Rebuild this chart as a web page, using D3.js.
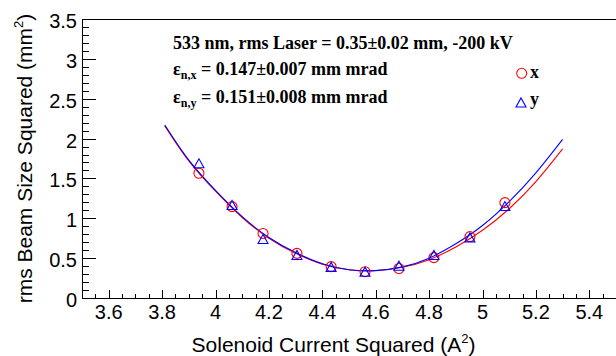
<!DOCTYPE html>
<html>
<head>
<meta charset="utf-8">
<script src="https://cdn.jsdelivr.net/npm/d3@7"></script>
<style>
  html, body { margin: 0; padding: 0; background: #fff; }
  svg { display: block; }
</style>
</head>
<body>
<svg id="chart" width="616" height="356"></svg>
<script>
// ---- data ----
const current2 = [3.938, 4.062, 4.178, 4.305, 4.433, 4.560, 4.687, 4.818, 4.953, 5.084];
const sizeX    = [1.565, 1.146, 0.81, 0.56, 0.393, 0.33, 0.37, 0.506, 0.77, 1.196];
const sizeY    = [1.69, 1.167, 0.74, 0.54, 0.39, 0.33, 0.405, 0.54, 0.76, 1.154];

const fitCurrent2 = [3.81, 3.9, 4.0, 4.1, 4.2, 4.3, 4.4, 4.5, 4.6, 4.7, 4.8, 4.9, 5.0, 5.1, 5.2, 5.3];
const fitX = [2.16, 1.72, 1.34, 1.01, 0.75, 0.56, 0.425, 0.355, 0.345, 0.385, 0.48, 0.64, 0.85, 1.12, 1.46, 1.87];
const fitY = [2.17, 1.73, 1.35, 1.02, 0.76, 0.57, 0.43, 0.355, 0.343, 0.39, 0.50, 0.68, 0.91, 1.21, 1.57, 1.99];

const xTickLabels = [3.6, 3.8, 4.0, 4.2, 4.4, 4.6, 4.8, 5.0, 5.2, 5.4];
const yTickLabels = [0, 0.5, 1, 1.5, 2, 2.5, 3, 3.5];

const infoLine1 = "533 nm, rms Laser = 0.35\u00B10.02 mm, -200 kV";
const infoLine2 = { sub: "n,x", rest: " = 0.147\u00B10.007 mm mrad" };
const infoLine3 = { sub: "n,y", rest: " = 0.151\u00B10.008 mm mrad" };
const legendLabels = ["x", "y"];

// ---- layout ----
const svg = d3.select("#chart");
const L = 82, T = 19, B = 298, R = 616;
const x = d3.scaleLinear().domain([3.5, 5.5]).range([L, R]);
const y = d3.scaleLinear().domain([0, 3.5]).range([B, T]);
const RED = "#ff0000", BLUE = "#0000ff";
const sans = "'Liberation Sans', Arial, Helvetica, sans-serif";
const serif = "'Liberation Serif', 'Times New Roman', Times, serif";

// frame
svg.append("path")
  .attr("d", `M${R + 5},${T}H${L}V${B}H${R + 5}`)
  .attr("fill", "none").attr("stroke", "#000").attr("stroke-width", 1)
  .attr("shape-rendering", "crispEdges");

// x ticks
const fmt = d => (Math.round(d * 10) / 10).toString();
const xMinor = d3.range(3.5, 5.5001, 0.05).filter(v => !xTickLabels.some(t => Math.abs(t - v) < 1e-6));
const gx = svg.append("g").attr("shape-rendering", "crispEdges");
gx.selectAll("line.minor").data(xMinor).join("line")
  .attr("x1", d => Math.round(x(d)) + 0.5).attr("x2", d => Math.round(x(d)) + 0.5)
  .attr("y1", B).attr("y2", B - 4).attr("stroke", "#000");
gx.selectAll("line.major").data(xTickLabels).join("line")
  .attr("x1", d => Math.round(x(d)) + 0.5).attr("x2", d => Math.round(x(d)) + 0.5)
  .attr("y1", B).attr("y2", B - 8).attr("stroke", "#000");
svg.append("g").selectAll("text").data(xTickLabels).join("text")
  .attr("x", d => x(d)).attr("y", 319)
  .attr("text-anchor", "middle")
  .attr("font-family", sans).attr("font-size", 20)
  .text(fmt);

// y ticks
const yMinor = d3.range(0, 3.5001, 0.1).filter(v => !yTickLabels.some(t => Math.abs(t - v) < 1e-6));
const gy = svg.append("g").attr("shape-rendering", "crispEdges");
gy.selectAll("line.minor").data(yMinor).join("line")
  .attr("x1", L).attr("x2", L + 7)
  .attr("y1", d => Math.round(y(d)) + 0.5).attr("y2", d => Math.round(y(d)) + 0.5)
  .attr("stroke", "#000");
gy.selectAll("line.major").data(yTickLabels).join("line")
  .attr("x1", L).attr("x2", L + 14)
  .attr("y1", d => Math.round(y(d)) + 0.5).attr("y2", d => Math.round(y(d)) + 0.5)
  .attr("stroke", "#000");
svg.append("g").selectAll("text").data(yTickLabels).join("text")
  .attr("x", 77).attr("y", d => y(d) + 9)
  .attr("text-anchor", "end")
  .attr("font-family", sans).attr("font-size", 20)
  .text(d => d.toString());

// axis titles
const xt = svg.append("text").attr("x", 333.5).attr("y", 352)
  .attr("text-anchor", "middle").attr("font-family", sans).attr("font-size", 21);
xt.append("tspan").text("Solenoid Current Squared (A");
xt.append("tspan").attr("font-size", 13).attr("dy", -9).text("2");
xt.append("tspan").attr("dy", 9).text(")");

const yt = svg.append("text")
  .attr("transform", `translate(32,${(T + B) / 2}) rotate(-90)`)
  .attr("text-anchor", "middle").attr("font-family", sans).attr("font-size", 21);
yt.append("tspan").text("rms Beam Size Squared (mm");
yt.append("tspan").attr("font-size", 13).attr("dy", -9).text("2");
yt.append("tspan").attr("dy", 9).text(")");

// fit curves
const line = d3.line().curve(d3.curveNatural).x(d => x(d[0])).y(d => y(d[1]));
svg.append("path").datum(fitCurrent2.map((c, i) => [c, fitX[i]]))
  .attr("d", line).attr("fill", "none").attr("stroke", RED).attr("stroke-width", 1.1);
svg.append("path").datum(fitCurrent2.map((c, i) => [c, fitY[i]]))
  .attr("d", line).attr("fill", "none").attr("stroke", BLUE).attr("stroke-width", 1.1);

// markers
const tri = (cx, cy) => `M${cx - 5},${cy + 4.5}L${cx + 5},${cy + 4.5}L${cx},${cy - 4.5}Z`;
svg.append("g").selectAll("circle").data(current2.map((c, i) => [c, sizeX[i]])).join("circle")
  .attr("cx", d => x(d[0])).attr("cy", d => y(d[1])).attr("r", 5)
  .attr("fill", "none").attr("stroke", RED).attr("stroke-width", 1.1);
svg.append("g").selectAll("path").data(current2.map((c, i) => [c, sizeY[i]])).join("path")
  .attr("d", d => tri(x(d[0]), y(d[1])))
  .attr("fill", "none").attr("stroke", BLUE).attr("stroke-width", 1.1);

// info text
svg.append("text").attr("x", 173).attr("y", 49)
  .attr("font-family", serif).attr("font-weight", "bold").attr("font-size", 18)
  .text(infoLine1);
[[infoLine2, 75], [infoLine3, 103]].forEach(([ln, by]) => {
  const t = svg.append("text").attr("x", 173).attr("y", by)
    .attr("font-family", serif).attr("font-weight", "bold").attr("font-size", 18);
  t.append("tspan").text("\u03B5");
  t.append("tspan").attr("font-size", 12).attr("dy", 4).text(ln.sub);
  t.append("tspan").attr("dy", -4).text(ln.rest);
});

// legend
svg.append("circle").attr("cx", 521.7).attr("cy", 73.3).attr("r", 5)
  .attr("fill", "none").attr("stroke", RED).attr("stroke-width", 1.1);
svg.append("path").attr("d", tri(521, 102.5))
  .attr("fill", "none").attr("stroke", BLUE).attr("stroke-width", 1.1);
svg.append("text").attr("x", 530).attr("y", 78)
  .attr("font-family", serif).attr("font-weight", "bold").attr("font-size", 18).text(legendLabels[0]);
svg.append("text").attr("x", 530).attr("y", 105)
  .attr("font-family", serif).attr("font-weight", "bold").attr("font-size", 18).text(legendLabels[1]);
</script>
</body>
</html>
